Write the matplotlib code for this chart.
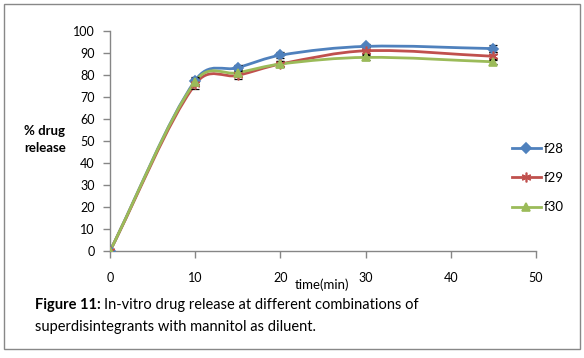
import numpy as np
import matplotlib
matplotlib.use("Agg")
import matplotlib.pyplot as plt
from matplotlib.path import Path
from matplotlib.patches import PathPatch, Rectangle
from matplotlib.lines import Line2D

time = [0, 10, 15, 20, 30, 45]
f28 = [0, 77.5, 83.3, 89.0, 93.0, 92.0]
f29 = [0, 75.8, 79.8, 85.0, 91.0, 88.5]
f30 = [0, 77.0, 81.0, 85.0, 88.0, 86.0]
err28 = [0.5, 1.5, 1.2, 1.5, 1.2, 1.5]
err29 = [0.5, 2.0, 1.8, 1.5, 1.5, 1.8]
err30 = [0.5, 1.5, 1.5, 1.2, 1.2, 1.2]
series_names = ["f28", "f29", "f30"]
colors = ["#4F81BD", "#C0504D", "#9BBB59"]
markers = ["D", (6, 2, 0), "^"]
msizes = [5, 7, 6]

plt.rcParams["font.family"] = ["Lato", "DejaVu Sans"]

fig = plt.figure(figsize=(5.84, 3.58), dpi=100)
fig.patches.append(Rectangle((4/584, 1-349/358), 576/584, 345/358, transform=fig.transFigure,
                             fill=False, edgecolor="#888888", lw=1))
ax = fig.add_axes([110/584, 1-251/358, 426/584, 220/358])


def smooth_path(x, y):
    x = np.asarray(x, float); y = np.asarray(y, float)
    n = len(x)
    d = np.zeros(n)
    for i in range(n):
        a, b = max(i-1, 0), min(i+1, n-1)
        d[i] = (y[b] - y[a]) / (x[b] - x[a])
    verts = [(x[0], y[0])]
    codes = [Path.MOVETO]
    for i in range(n - 1):
        h = x[i+1] - x[i]
        verts += [(x[i] + h/3, y[i] + d[i]*h/3),
                  (x[i+1] - h/3, y[i+1] - d[i+1]*h/3),
                  (x[i+1], y[i+1])]
        codes += [Path.CURVE4] * 3
    return Path(verts, codes)


for ys, es, c, m, ms in zip([f28, f29, f30], [err28, err29, err30], colors, markers, msizes):
    ax.add_patch(PathPatch(smooth_path(time, ys), fill=False, edgecolor=c, lw=2.0, zorder=2))
    ax.errorbar(time, ys, yerr=es, fmt="none", ecolor="black", elinewidth=0.9, capsize=3, capthick=0.9, zorder=3)
    ax.plot(time, ys, linestyle="none", marker=m, markersize=ms, color=c,
            markeredgecolor=c, markeredgewidth=1.2, zorder=4)

ax.set_xlim(0, 50)
ax.set_ylim(0, 100)
ax.set_xticks(range(0, 51, 10))
ax.set_yticks(range(0, 101, 10))
for s in ["top", "right"]:
    ax.spines[s].set_visible(False)
for s in ["left", "bottom"]:
    ax.spines[s].set_color("#868686")
    ax.spines[s].set_linewidth(1)
ax.tick_params(axis="both", colors="#868686", labelcolor="black", labelsize=9, length=5, width=1)
ax.tick_params(axis="x", pad=10)
ax.tick_params(axis="y", pad=6)

fig.text(322/584, 1-285/358, "time(min)", ha="center", va="center", fontsize=9.5)
fig.text(45/584, 1-140/358, "% drug\nrelease", ha="center", va="center", fontsize=9.5,
         fontweight="bold", linespacing=1.5)

handles = [Line2D([], [], color=c, lw=2.0, marker=m, markersize=ms,
                  markeredgecolor=c, markerfacecolor=c, markeredgewidth=1.2)
           for c, m, ms in zip(colors, markers, msizes)]
fig.legend(handles, series_names, loc="center left", bbox_to_anchor=(500/584, 1-178/358),
           frameon=False, fontsize=9.5, handlelength=2.2, handletextpad=0.2, labelspacing=1.3)

t1 = fig.text(35/584, 1-305/358, "Figure 11:", ha="left", va="center", fontsize=10.5, fontweight="bold")
fig.canvas.draw()
bb = t1.get_window_extent()
fig.text((bb.x1 + 3) / 584, 1-305/358, "In-vitro drug release at different combinations of",
         ha="left", va="center", fontsize=10.5)
fig.text(35/584, 1-327/358, "superdisintegrants with mannitol as diluent.", ha="left", va="center", fontsize=10.5)

fig.savefig("out.png", dpi=100)
